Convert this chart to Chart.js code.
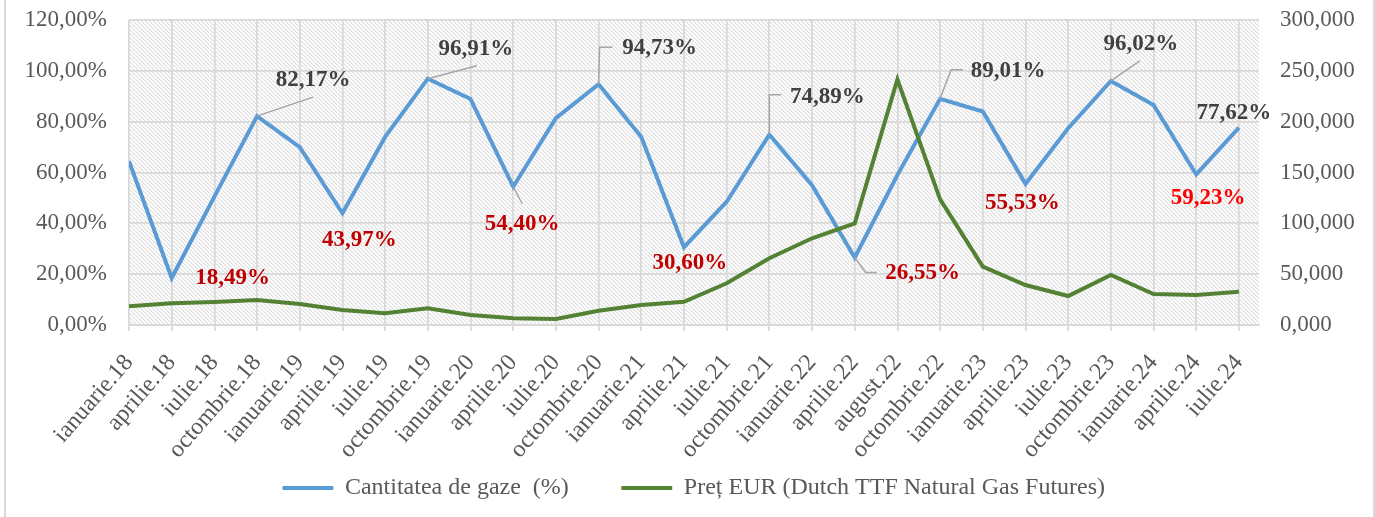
<!DOCTYPE html>
<html>
<head>
<meta charset="utf-8">
<script src="https://cdn.jsdelivr.net/npm/chart.js@4"></script>
<style>
  html, body { margin: 0; padding: 0; background: #ffffff; }
  #wrap { width: 1375px; height: 517px; position: relative; }
</style>
</head>
<body>
<div id="wrap"><canvas id="c" width="1375" height="517"></canvas></div>
<script>
// ---- data ----
const categories = ['ianuarie.18','aprilie.18','iulie.18','octombrie.18','ianuarie.19','aprilie.19','iulie.19','octombrie.19','ianuarie.20','aprilie.20','iulie.20','octombrie.20','ianuarie.21','aprilie.21','iulie.21','octombrie.21','ianuarie.22','aprilie.22','august.22','octombrie.22','ianuarie.23','aprilie.23','iulie.23','octombrie.23','ianuarie.24','aprilie.24','iulie.24'];
const gasQuantity = [64.5, 18.49, 50.5, 82.17, 70.0, 43.97, 74.0, 96.91, 88.9, 54.40, 81.4, 94.73, 74.0, 30.60, 48.5, 74.89, 55.0, 26.55, 59.0, 89.01, 84.0, 55.53, 77.4, 96.02, 86.6, 59.23, 77.62];
const gasPrice = [18.5, 21.3, 22.6, 24.6, 20.7, 14.8, 11.5, 16.4, 9.8, 6.6, 5.9, 14.1, 19.7, 22.9, 41.0, 65.6, 85.3, 100.0, 241.5, 123.6, 57.4, 39.3, 28.5, 49.2, 30.5, 29.5, 32.8];
const seriesNames = ['Cantitatea de gaze  (%)', 'Preț EUR (Dutch TTF Natural Gas Futures)'];
const leftTicks = [0, 20, 40, 60, 80, 100, 120];
const rightTicks = [0, 50, 100, 150, 200, 250, 300];
const labeledIdx = [1, 3, 5, 7, 9, 11, 13, 15, 17, 19, 21, 23, 25, 26];

// ---- label placement (layout, relative to point) ----
const labelStyle = {
  1:  {dx: 61, dy: 0,   color: '#C00000'},
  3:  {dx: 56, dy: -36, color: '#404040', leader: [[0,0],[56,-19]]},
  5:  {dx: 17, dy: 27,  color: '#C00000'},
  7:  {dx: 48, dy: -30, color: '#404040', leader: [[0,0],[49,-13]]},
  9:  {dx: 9,  dy: 37,  color: '#C00000', leader: [[0,0],[9,17]]},
  11: {dx: 61, dy: -36, color: '#404040', leader: [[0,0],[1,-37],[14,-37]]},
  13: {dx: 6,  dy: 16,  color: '#C00000'},
  15: {dx: 58, dy: -38, color: '#404040', leader: [[0,0],[0,-40],[12,-40]]},
  17: {dx: 68, dy: 16,  color: '#C00000', leader: [[0,0],[11,15],[22,15]]},
  19: {dx: 68, dy: -28, color: '#404040', leader: [[0,0],[11,-29],[23,-29]]},
  21: {dx: -3, dy: 19,  color: '#C00000'},
  23: {dx: 30, dy: -37, color: '#404040', leader: [[0,0],[29,-20]]},
  25: {dx: 12, dy: 24,  color: '#FF0000'},
  26: {dx: -5, dy: -15, color: '#404040'}
};

const FONT = "'Liberation Serif', 'Times New Roman', serif";
const TEXT = '#595959';
const GRID = '#d9d9d9';

function makeHatch() {
  const c = document.createElement('canvas');
  c.width = 4; c.height = 4;
  const g = c.getContext('2d');
  g.fillStyle = '#ffffff';
  g.fillRect(0, 0, 4, 4);
  g.fillStyle = '#dedede';
  for (let i = 0; i < 4; i++) {
    g.fillRect(i, i, 1, 1);
  }
  g.fillStyle = '#efefef';
  for (let i = 0; i < 4; i++) {
    g.fillRect((i + 1) % 4, i, 1, 1);
  }
  return c;
}

const hatchPlugin = {
  id: 'hatch',
  afterLayout(chart) {
    // let the legend text sit lower than its reserved box (legend draws from its top + padding)
    if (chart.legend) {
      chart.legend.top = chart.legend.bottom - 94;
    }
  },
  beforeDraw(chart) {
    const {ctx, chartArea: a} = chart;
    ctx.save();
    ctx.fillStyle = ctx.createPattern(makeHatch(), 'repeat');
    ctx.fillRect(a.left, a.top, a.right - a.left, a.bottom - a.top);
    // outer frame (left & right edges)
    ctx.fillStyle = GRID;
    ctx.fillRect(4, 0, 2, chart.height);
    ctx.fillRect(chart.width - 2, 0, 2, chart.height);
    ctx.restore();
  }
};

const labelPlugin = {
  id: 'valueLabels',
  afterDatasetsDraw(chart) {
    const {ctx} = chart;
    const meta = chart.getDatasetMeta(0);
    ctx.save();
    labeledIdx.forEach(i => {
      const pt = meta.data[i];
      const st = labelStyle[i];
      if (st.leader) {
        ctx.beginPath();
        ctx.strokeStyle = '#a6a6a6';
        ctx.lineWidth = 1.5;
        st.leader.forEach(([lx, ly], k) => {
          if (k === 0) ctx.moveTo(pt.x + lx, pt.y + ly);
          else ctx.lineTo(pt.x + lx, pt.y + ly);
        });
        ctx.stroke();
      }
      const txt = gasQuantity[i].toFixed(2).replace('.', ',') + '%';
      ctx.font = 'bold 23px ' + FONT;
      ctx.fillStyle = st.color;
      ctx.textAlign = 'center';
      ctx.textBaseline = 'middle';
      ctx.fillText(txt, pt.x + st.dx, pt.y + st.dy);
    });
    ctx.restore();
  }
};

const ctx = document.getElementById('c').getContext('2d');
new Chart(ctx, {
  type: 'line',
  data: {
    datasets: [
      {
        label: seriesNames[0],
        data: gasQuantity.map((v, i) => ({x: i, y: v})),
        borderColor: '#5B9BD5',
        backgroundColor: '#5B9BD5',
        borderWidth: 4,
        pointRadius: 0,
        tension: 0,
        yAxisID: 'y',
        order: 2
      },
      {
        label: seriesNames[1],
        data: gasPrice.map((v, i) => ({x: i, y: v})),
        borderColor: '#548235',
        backgroundColor: '#548235',
        borderWidth: 4,
        pointRadius: 0,
        tension: 0,
        yAxisID: 'y1',
        order: 1
      }
    ]
  },
  options: {
    responsive: false,
    animation: false,
    events: [],
    layout: { padding: { left: 13, right: 0, top: 20, bottom: 0 } },
    scales: {
      x: {
        type: 'linear',
        min: 0,
        max: 26.47,
        afterBuildTicks: s => { s.ticks = categories.map((_, i) => ({value: i})); },
        afterFit: s => { s.height = 140; },
        ticks: {
          autoSkip: false,
          maxRotation: 49,
          minRotation: 49,
          padding: 18,
          color: TEXT,
          font: { family: FONT, size: 24 },
          callback: v => categories[v] ?? ''
        },
        grid: { color: GRID, lineWidth: 1.75, tickLength: 6, drawOnChartArea: true },
        border: { color: GRID, width: 2 }
      },
      y: {
        position: 'left',
        min: 0,
        max: 120,
        afterBuildTicks: s => { s.ticks = leftTicks.map(v => ({value: v})); },
        afterFit: s => { s.width = 116; s.paddingTop = 0; s.paddingBottom = 0; },
        ticks: {
          padding: 22,
          color: TEXT,
          font: { family: FONT, size: 23 },
          callback: v => v.toFixed(2).replace('.', ',') + '%'
        },
        grid: { color: GRID, lineWidth: 1.75, drawTicks: false },
        border: { display: false }
      },
      y1: {
        position: 'right',
        min: 0,
        max: 300,
        afterBuildTicks: s => { s.ticks = rightTicks.map(v => ({value: v})); },
        afterFit: s => { s.width = 116; s.paddingTop = 0; s.paddingBottom = 0; },
        ticks: {
          padding: 21,
          color: TEXT,
          font: { family: FONT, size: 23 },
          callback: v => v.toFixed(3).replace('.', ',')
        },
        grid: { display: false, drawTicks: false },
        border: { display: false }
      }
    },
    plugins: {
      tooltip: { enabled: false },
      legend: {
        position: 'bottom',
        maxHeight: 52,
        labels: {
          color: TEXT,
          font: { family: FONT, size: 24 },
          boxWidth: 50,
          boxHeight: 3,
          padding: 53,
          generateLabels: chart => chart.data.datasets.map((d, i) => ({
            text: d.label,
            fillStyle: d.borderColor,
            strokeStyle: d.borderColor,
            lineWidth: 1,
            fontColor: TEXT,
            datasetIndex: i,
            hidden: false
          }))
        }
      }
    }
  },
  plugins: [hatchPlugin, labelPlugin]
});
</script>
</body>
</html>
